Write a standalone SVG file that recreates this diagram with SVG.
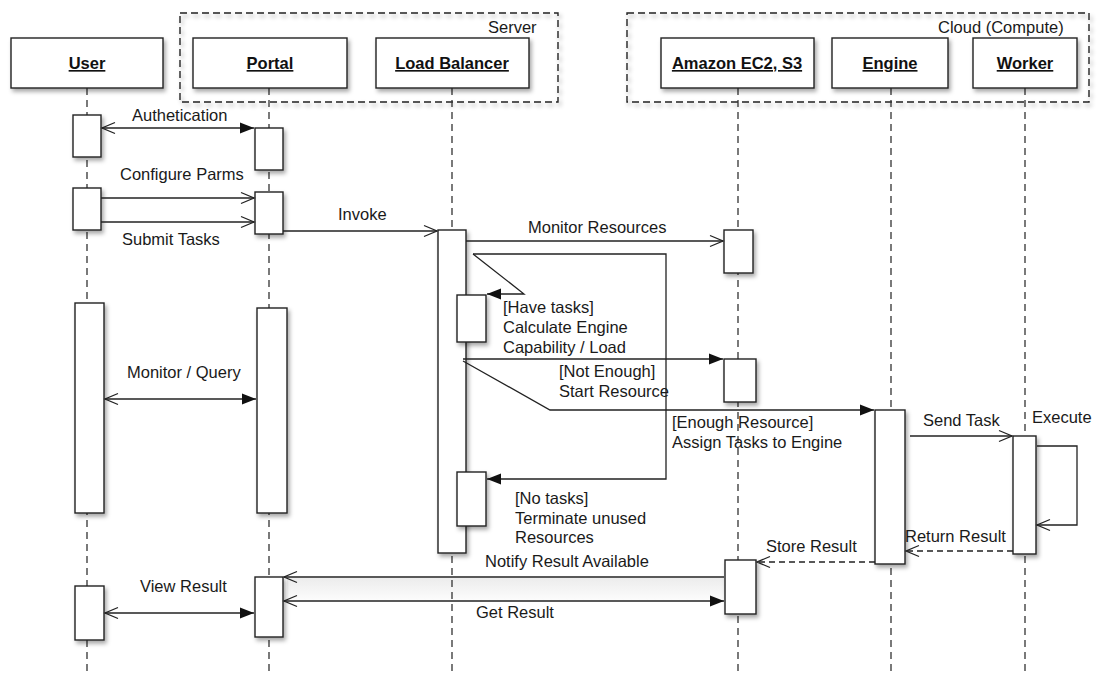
<svg xmlns="http://www.w3.org/2000/svg" width="1101" height="674" viewBox="0 0 1101 674">
<defs>
<filter id="sh" x="-20%" y="-20%" width="150%" height="150%">
<feDropShadow dx="2" dy="3" stdDeviation="2" flood-color="#000" flood-opacity="0.35"/>
</filter>
<marker id="open" markerUnits="userSpaceOnUse" markerWidth="16" markerHeight="14" refX="14" refY="7" orient="auto-start-reverse">
<path d="M1,1.5 L14,7 L1,12.5" fill="none" stroke="#222" stroke-width="1.3"/>
</marker>
<marker id="fill" markerUnits="userSpaceOnUse" markerWidth="16" markerHeight="14" refX="14" refY="7" orient="auto-start-reverse">
<path d="M0,1.5 L14,7 L0,12.5 Z" fill="#111" stroke="none"/>
</marker>
<linearGradient id="band" x1="0" y1="0" x2="0" y2="1">
<stop offset="0" stop-color="#ececec"/>
<stop offset="1" stop-color="#fcfcfc"/>
</linearGradient>
</defs>
<style>
text{font-family:"Liberation Sans",Arial,sans-serif;font-size:16.5px;fill:#1a1a1a}
.hd{font-weight:bold;text-decoration:underline;text-anchor:middle;fill:#111}
.box{fill:#fff;stroke:#222;stroke-width:1.4;filter:url(#sh)}
.grp{fill:none;stroke:#222;stroke-width:1.4;stroke-dasharray:7 4;filter:url(#sh)}
.life{stroke:#333;stroke-width:1.3;stroke-dasharray:7 5;fill:none}
.act{fill:#fff;stroke:#222;stroke-width:1.4;filter:url(#sh)}
.msg{stroke:#222;stroke-width:1.3;fill:none}
.dash{stroke-dasharray:6 4}
</style>
<rect width="1101" height="674" fill="#fff"/>
<rect x="287" y="578" width="437" height="22" fill="url(#band)"/>

<g id="group-server">
<rect class="grp" x="180" y="13" width="378" height="89"/>
<text x="488" y="33">Server</text>
</g>
<g id="group-cloud">
<rect class="grp" x="627" y="13" width="462" height="89"/>
<text x="938" y="33">Cloud (Compute)</text>
</g>

<g id="lifelines">
<line class="life" x1="87" y1="88" x2="87" y2="674"/>
<line class="life" x1="269" y1="88" x2="269" y2="674"/>
<line class="life" x1="452" y1="88" x2="452" y2="674"/>
<line class="life" x1="738" y1="88" x2="738" y2="674"/>
<line class="life" x1="891" y1="88" x2="891" y2="674"/>
<line class="life" x1="1025" y1="88" x2="1025" y2="674"/>
</g>

<g id="user">
<rect class="box" x="11" y="38" width="152" height="50"/>
<text class="hd" x="87" y="69">User</text>
<rect class="act" x="73" y="115" width="28" height="42"/>
<rect class="act" x="73" y="188" width="28" height="42"/>
<rect class="act" x="75" y="303" width="29" height="210"/>
<rect class="act" x="75" y="586" width="29" height="54"/>
</g>
<g id="portal">
<rect class="box" x="193" y="38" width="154" height="50"/>
<text class="hd" x="270" y="69">Portal</text>
<rect class="act" x="255" y="128" width="28" height="42"/>
<rect class="act" x="255" y="192" width="28" height="42"/>
<rect class="act" x="257" y="308" width="30" height="205"/>
<rect class="act" x="255" y="577" width="28" height="60"/>
</g>
<g id="load-balancer">
<rect class="box" x="376" y="38" width="153" height="50"/>
<text class="hd" x="452" y="69">Load Balancer</text>
<rect class="act" x="438" y="230" width="28" height="323"/>
<rect class="act" x="457" y="295" width="29" height="47"/>
<rect class="act" x="457" y="472" width="29" height="54"/>
</g>
<g id="amazon">
<rect class="box" x="661" y="38" width="153" height="50"/>
<text class="hd" x="737" y="69">Amazon EC2, S3</text>
<rect class="act" x="724" y="230" width="29" height="43"/>
<rect class="act" x="724" y="359" width="32" height="43"/>
<rect class="act" x="725" y="560" width="31" height="54"/>
</g>
<g id="engine">
<rect class="box" x="832" y="38" width="116" height="50"/>
<text class="hd" x="890" y="69">Engine</text>
<rect class="act" x="875" y="410" width="30" height="154"/>
</g>
<g id="worker">
<rect class="box" x="973" y="38" width="104" height="50"/>
<text class="hd" x="1025" y="69">Worker</text>
<rect class="act" x="1013" y="436" width="23" height="118"/>
</g>

<g id="connectors">
<line class="msg" x1="102" y1="128" x2="254" y2="128" marker-start="url(#open)" marker-end="url(#fill)"/>
<line class="msg" x1="101" y1="198" x2="254" y2="198" marker-end="url(#open)"/>
<line class="msg" x1="101" y1="222" x2="254" y2="222" marker-end="url(#open)"/>
<line class="msg" x1="283" y1="231" x2="437" y2="231" marker-end="url(#open)"/>
<line class="msg" x1="466" y1="241" x2="723" y2="241" marker-end="url(#open)"/>
<path class="msg" d="M473,254 L524,294 L487,294" marker-end="url(#fill)"/>
<path class="msg" d="M473,254 L666,254 L666,479 L487,479" marker-end="url(#fill)"/>
<line class="msg" x1="463" y1="359" x2="723" y2="359" marker-end="url(#fill)"/>
<path class="msg" d="M463,361 L550,410 L874,410" marker-end="url(#fill)"/>
<line class="msg" x1="910" y1="436" x2="1012" y2="436" marker-end="url(#open)"/>
<path class="msg" d="M1037,446 L1077,446 L1077,525 L1037,525" marker-end="url(#open)"/>
<line class="msg dash" x1="1013" y1="551" x2="906" y2="551" marker-end="url(#open)"/>
<line class="msg dash" x1="875" y1="562" x2="757" y2="562" marker-end="url(#open)"/>
<line class="msg" x1="724" y1="577" x2="284" y2="577" marker-end="url(#open)"/>
<line class="msg" x1="284" y1="601" x2="724" y2="601" marker-start="url(#open)" marker-end="url(#fill)"/>
<line class="msg" x1="105" y1="399" x2="256" y2="399" marker-start="url(#open)" marker-end="url(#fill)"/>
<line class="msg" x1="105" y1="613" x2="254" y2="613" marker-start="url(#open)" marker-end="url(#fill)"/>
</g>

<g id="labels">
<text x="132" y="121">Authetication</text>
<text x="120" y="180">Configure Parms</text>
<text x="122" y="245">Submit Tasks</text>
<text x="338" y="220">Invoke</text>
<text x="528" y="233">Monitor Resources</text>
<text x="503" y="313">[Have tasks]</text>
<text x="503" y="333">Calculate Engine</text>
<text x="503" y="353">Capability / Load</text>
<text x="559" y="377">[Not Enough]</text>
<text x="559" y="397">Start Resource</text>
<text x="672" y="428">[Enough Resource]</text>
<text x="672" y="448">Assign Tasks to Engine</text>
<text x="923" y="426">Send Task</text>
<text x="1032" y="423">Execute</text>
<text x="127" y="378">Monitor / Query</text>
<text x="515" y="504">[No tasks]</text>
<text x="515" y="524">Terminate unused</text>
<text x="515" y="543">Resources</text>
<text x="905" y="542">Return Result</text>
<text x="766" y="552">Store Result</text>
<text x="485" y="567">Notify Result Available</text>
<text x="476" y="618">Get Result</text>
<text x="140" y="592">View Result</text>
</g>
</svg>
